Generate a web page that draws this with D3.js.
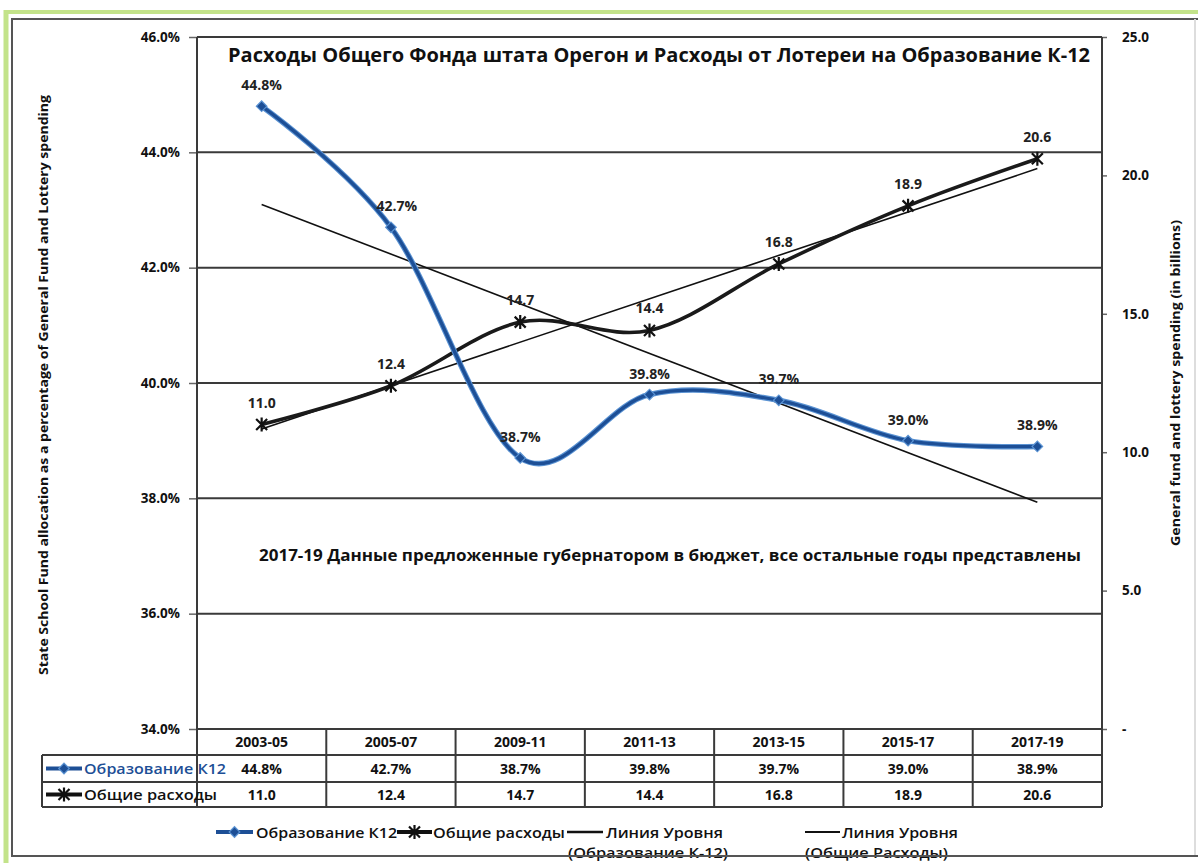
<!DOCTYPE html>
<html><head><meta charset="utf-8">
<script src="https://cdn.jsdelivr.net/npm/d3@7"></script>
<style>
html,body{margin:0;padding:0;background:#fff;}
svg{display:block;font-family:"Open Sans","Noto Sans",sans-serif;}
</style></head><body>
<svg id="chart" width="1198" height="863"></svg>
<script>
// ---- data ----
const categories = ["2003-05", "2005-07", "2009-11", "2011-13", "2013-15", "2015-17", "2017-19"];
const k12Share = [44.8, 42.7, 38.7, 39.8, 39.7, 39.0, 38.9];        // % of general fund + lottery
const totalSpending = [11.0, 12.4, 14.7, 14.4, 16.8, 18.9, 20.6];   // billions
const leftTicks = [34, 36, 38, 40, 42, 44, 46];
const rightTicks = [0, 5, 10, 15, 20, 25];
const seriesNames = ["Образование К12", "Общие расходы"];
const trendNames = [["Линия Уровня", "(Образование К-12)"], ["Линия Уровня", "(Общие Расходы)"]];
const titleText = "Расходы Общего Фонда штата Орегон и Расходы от Лотереи на Образование К-12";
const noteText = "2017-19 Данные предложенные губернатором в бюджет, все остальные годы представлены";
const leftTitle = "State School Fund allocation as a percentage of General Fund and Lottery spending";
const rightTitle = "General fund and lottery spending (in billions)";

// ---- layout ----
const W = 1198, H = 863;
const plot = {left: 197, right: 1102, top: 37, bottom: 729};
const rows = [729, 755, 782, 807];
const tableLeft = 42;
const BLUE = "#1d4f96", BLUE_EDGE = "#5b93d3", INK = "#111";

const svg = d3.select("#chart");

const x = d3.scaleBand().domain(categories).range([plot.left, plot.right]);
const cx = d => x(d) + x.bandwidth() / 2;
const yL = d3.scaleLinear().domain([34, 46]).range([plot.bottom, plot.top]);
const yR = d3.scaleLinear().domain([0, 25]).range([plot.bottom, plot.top]);

// ---- outer frame ----
svg.append("rect").attr("x", 0).attr("y", 0).attr("width", W).attr("height", H).attr("fill", "#fff");
svg.append("line").attr("x1", 4).attr("x2", W).attr("y1", 12).attr("y2", 12)
  .attr("stroke", "#c3e38a").attr("stroke-width", 4);
svg.append("line").attr("x1", 6).attr("x2", 6).attr("y1", 10).attr("y2", H)
  .attr("stroke", "#c3e38a").attr("stroke-width", 5);
svg.append("path").attr("d", `M${W},19H12V856H${W}`).attr("fill", "none")
  .attr("stroke", "#555").attr("stroke-width", 2);
svg.append("line").attr("x1", W - 3).attr("x2", W - 3).attr("y1", 19).attr("y2", 856)
  .attr("stroke", "#ddd").attr("stroke-width", 2);

// ---- gridlines ----
svg.append("g").selectAll("line").data(leftTicks).join("line")
  .attr("x1", plot.left).attr("x2", plot.right)
  .attr("y1", d => yL(d)).attr("y2", d => yL(d))
  .attr("stroke", "#3a3a3a").attr("stroke-width", 2);

// ---- axes ----
const axL = svg.append("g").attr("transform", `translate(${plot.left},0)`)
  .call(d3.axisLeft(yL).tickValues(leftTicks).tickSize(8).tickPadding(9).tickSizeOuter(0)
    .tickFormat(d => d.toFixed(1) + "%"));
const axR = svg.append("g").attr("transform", `translate(${plot.right},0)`)
  .call(d3.axisRight(yR).tickValues(rightTicks).tickSize(5).tickPadding(15).tickSizeOuter(0)
    .tickFormat(d => d === 0 ? "-" : d.toFixed(1)));
[axL, axR].forEach(a => {
  a.select(".domain").remove();
  a.selectAll(".tick line").attr("stroke", "#666").attr("stroke-width", 1.5);
  a.selectAll(".tick text").attr("fill", INK).attr("font-size", 13.5).attr("font-weight", 700)
    .attr("font-family", "'Open Sans',sans-serif");
});
// vertical axis lines (run down through the data table)
svg.append("g").selectAll("line").data([plot.left, plot.right]).join("line")
  .attr("x1", d => d).attr("x2", d => d).attr("y1", plot.top).attr("y2", rows[3])
  .attr("stroke", "#3a3a3a").attr("stroke-width", 2);

// axis titles
svg.append("text").attr("transform", `translate(48,${385}) rotate(-90)`)
  .attr("text-anchor", "middle").attr("font-size", 13).attr("font-weight", 700)
  .attr("textLength", 580).attr("lengthAdjust", "spacingAndGlyphs")
  .attr("fill", INK).text(leftTitle);
svg.append("text").attr("transform", `translate(1180,${383}) rotate(-90)`)
  .attr("text-anchor", "middle").attr("font-size", 13).attr("font-weight", 700)
  .attr("textLength", 326).attr("lengthAdjust", "spacingAndGlyphs")
  .attr("fill", INK).text(rightTitle);

// ---- linear trend lines ----
function fit(vals) {
  const n = vals.length, mx = (n - 1) / 2, my = d3.mean(vals);
  let sxy = 0, sxx = 0;
  vals.forEach((v, i) => { sxy += (i - mx) * (v - my); sxx += (i - mx) ** 2; });
  const b = sxy / sxx;
  return i => my + b * (i - mx);
}
const fK = fit(k12Share), fT = fit(totalSpending);
const last = categories.length - 1;
svg.append("line")
  .attr("x1", cx(categories[0])).attr("y1", yL(fK(0)))
  .attr("x2", cx(categories[last])).attr("y2", yL(fK(last)))
  .attr("stroke", INK).attr("stroke-width", 1.6);
svg.append("line")
  .attr("x1", cx(categories[0])).attr("y1", yR(fT(0)))
  .attr("x2", cx(categories[last])).attr("y2", yR(fT(last)))
  .attr("stroke", INK).attr("stroke-width", 1.6);

// ---- smoothed series ----
const lineK = d3.line().x((d, i) => cx(categories[i])).y(d => yL(d)).curve(d3.curveCatmullRom.alpha(0));
const lineT = d3.line().x((d, i) => cx(categories[i])).y(d => yR(d)).curve(d3.curveCatmullRom.alpha(0));

svg.append("path").attr("d", lineT(totalSpending)).attr("fill", "none")
  .attr("stroke", "#1a1a1a").attr("stroke-width", 3.6);
svg.append("path").attr("d", lineK(k12Share)).attr("fill", "none")
  .attr("stroke", BLUE_EDGE).attr("stroke-width", 5.5);
svg.append("path").attr("d", lineK(k12Share)).attr("fill", "none")
  .attr("stroke", BLUE).attr("stroke-width", 3.4);

// markers
const diamond = d3.symbol().type(d3.symbolSquare).size(56);
const starPath = "M-5.5,-5.5L5.5,5.5M-5.5,5.5L5.5,-5.5M0,-7L0,7";
function drawDiamond(g, px, py) {
  g.append("path").attr("d", diamond()).attr("transform", `translate(${px},${py}) rotate(45)`)
    .attr("fill", BLUE).attr("stroke", BLUE_EDGE).attr("stroke-width", 1.2);
}
function drawStar(g, px, py) {
  g.append("path").attr("d", starPath).attr("transform", `translate(${px},${py})`)
    .attr("fill", "none").attr("stroke", "#111").attr("stroke-width", 2.2);
}
const mk = svg.append("g");
totalSpending.forEach((v, i) => drawStar(mk, cx(categories[i]), yR(v)));
k12Share.forEach((v, i) => drawDiamond(mk, cx(categories[i]), yL(v)));

// data labels
const lbl = svg.append("g").attr("font-size", 14).attr("font-weight", 700)
  .attr("fill", "#222").attr("text-anchor", "middle");
k12Share.forEach((v, i) => lbl.append("text")
  .attr("x", cx(categories[i]) + (i === 1 ? 6 : 0)).attr("y", yL(v) - 16)
  .text(v.toFixed(1) + "%"));
totalSpending.forEach((v, i) => lbl.append("text")
  .attr("x", cx(categories[i])).attr("y", yR(v) - 17)
  .text(v.toFixed(1)));

// ---- title & note ----
svg.append("text").attr("x", 659).attr("y", 62).attr("text-anchor", "middle")
  .attr("font-size", 20).attr("font-weight", 700).attr("fill", INK)
  .attr("textLength", 862).attr("lengthAdjust", "spacingAndGlyphs").text(titleText);
svg.append("text").attr("x", 259).attr("y", 561)
  .attr("font-size", 15.5).attr("font-weight", 700).attr("fill", INK)
  .attr("textLength", 822).attr("lengthAdjust", "spacingAndGlyphs").text(noteText);

// ---- data table ----
const tb = svg.append("g");
tb.append("line").attr("x1", plot.left).attr("x2", plot.right).attr("y1", rows[0]).attr("y2", rows[0])
  .attr("stroke", "#3a3a3a").attr("stroke-width", 2);
rows.slice(1).forEach(ry => tb.append("line").attr("x1", tableLeft).attr("x2", plot.right)
  .attr("y1", ry).attr("y2", ry).attr("stroke", "#3a3a3a").attr("stroke-width", 2));
tb.append("line").attr("x1", tableLeft).attr("x2", tableLeft).attr("y1", rows[1]).attr("y2", rows[3])
  .attr("stroke", "#3a3a3a").attr("stroke-width", 2);
categories.slice(1).forEach(c => tb.append("line").attr("x1", x(c)).attr("x2", x(c))
  .attr("y1", rows[0]).attr("y2", rows[3]).attr("stroke", "#3a3a3a").attr("stroke-width", 2));

const cellText = (txt, xx, r) => tb.append("text").attr("x", xx).attr("y", (rows[r] + rows[r + 1]) / 2 + 5)
  .attr("text-anchor", "middle").attr("font-size", 14).attr("font-weight", 700).attr("fill", INK).text(txt);
categories.forEach((c, i) => {
  cellText(c, cx(c), 0);
  cellText(k12Share[i].toFixed(1) + "%", cx(c), 1);
  cellText(totalSpending[i].toFixed(1), cx(c), 2);
});

// row keys
function keyBlue(g, x0, x1, yy) {
  g.append("line").attr("x1", x0).attr("x2", x1).attr("y1", yy).attr("y2", yy)
    .attr("stroke", BLUE).attr("stroke-width", 4);
  drawDiamond(g, (x0 + x1) / 2, yy);
}
function keyBlack(g, x0, x1, yy) {
  g.append("line").attr("x1", x0).attr("x2", x1).attr("y1", yy).attr("y2", yy)
    .attr("stroke", "#111").attr("stroke-width", 4);
  drawStar(g, (x0 + x1) / 2, yy);
}
const r1 = (rows[1] + rows[2]) / 2, r2 = (rows[2] + rows[3]) / 2;
keyBlue(tb, 46, 82, r1);
keyBlack(tb, 46, 82, r2);
tb.append("text").attr("x", 84).attr("y", r1 + 5.5).attr("font-size", 15).attr("font-weight", 600)
  .attr("fill", BLUE).attr("textLength", 142).attr("lengthAdjust", "spacingAndGlyphs").text(seriesNames[0]);
tb.append("text").attr("x", 84).attr("y", r2 + 5.5).attr("font-size", 15).attr("font-weight", 600)
  .attr("fill", INK).attr("textLength", 133).attr("lengthAdjust", "spacingAndGlyphs").text(seriesNames[1]);

// ---- legend ----
const lg = svg.append("g").attr("font-size", 15).attr("font-weight", 600).attr("fill", INK);
const ly = 832;
keyBlue(lg, 216, 253, ly);
lg.append("text").attr("x", 256).attr("y", ly + 5.5).attr("textLength", 141)
  .attr("lengthAdjust", "spacingAndGlyphs").text(seriesNames[0]);
keyBlack(lg, 397, 432, ly);
lg.append("text").attr("x", 433).attr("y", ly + 5.5).attr("textLength", 132)
  .attr("lengthAdjust", "spacingAndGlyphs").text(seriesNames[1]);
lg.append("line").attr("x1", 567).attr("x2", 603).attr("y1", ly).attr("y2", ly)
  .attr("stroke", INK).attr("stroke-width", 2.5);
lg.append("text").attr("x", 606).attr("y", ly + 5.5).attr("textLength", 117)
  .attr("lengthAdjust", "spacingAndGlyphs").text(trendNames[0][0]);
lg.append("text").attr("x", 568).attr("y", ly + 26).attr("textLength", 160)
  .attr("lengthAdjust", "spacingAndGlyphs").text(trendNames[0][1]);
lg.append("line").attr("x1", 805).attr("x2", 840).attr("y1", ly).attr("y2", ly)
  .attr("stroke", INK).attr("stroke-width", 2);
lg.append("text").attr("x", 842).attr("y", ly + 5.5).attr("textLength", 116)
  .attr("lengthAdjust", "spacingAndGlyphs").text(trendNames[1][0]);
lg.append("text").attr("x", 805).attr("y", ly + 26).attr("textLength", 143)
  .attr("lengthAdjust", "spacingAndGlyphs").text(trendNames[1][1]);

// bottom frame line runs across the second legend line
svg.append("line").attr("x1", 12).attr("x2", W).attr("y1", 856).attr("y2", 856)
  .attr("stroke", "#555").attr("stroke-width", 2);
</script>
</body></html>
